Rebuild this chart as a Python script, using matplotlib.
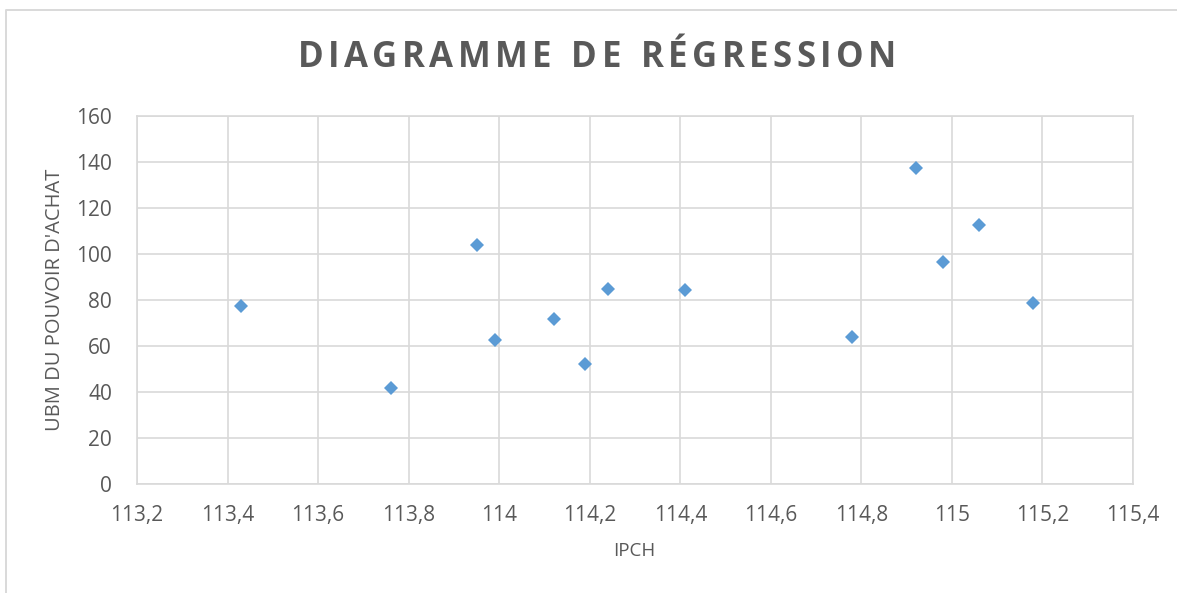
import matplotlib
matplotlib.use("Agg")
import matplotlib.pyplot as plt
from matplotlib.ticker import FuncFormatter, MultipleLocator
from matplotlib.lines import Line2D

# values
ipch = [113.43, 113.76, 113.95, 113.99, 114.12, 114.19, 114.24,
        114.41, 114.78, 114.92, 114.98, 115.06, 115.18]
ubm = [77.3, 41.9, 103.9, 62.4, 71.8, 52.0, 84.6,
       84.2, 64.0, 137.6, 96.5, 112.7, 78.7]

title = "DIAGRAMME DE RÉGRESSION"
x_label = "IPCH"
y_label = "UBM DU POUVOIR D'ACHAT"

W, H = 1177, 593
TEXT = "#595959"
GRID = "#D9D9D9"
BLUE = "#5B9BD5"

plt.rcParams["font.family"] = ["Open Sans", "DejaVu Sans"]

fig = plt.figure(figsize=(W / 100, H / 100), dpi=100)
fig.patch.set_facecolor("white")

# chart frame: only left and top edges are visible in the crop
fig.lines.append(Line2D([6 / W, 6 / W, 1.0], [0.0, 1 - 10 / H, 1 - 10 / H],
                        transform=fig.transFigure, color=GRID, linewidth=1.4))

ax = fig.add_axes([137 / W, 1 - 484 / H, 996 / W, 368 / H])
ax.plot(ipch, ubm, linestyle="none", marker="D", markersize=7,
        color=BLUE, markeredgewidth=0, zorder=3)

ax.set_xlim(113.2, 115.4)
ax.set_ylim(0, 160)
ax.xaxis.set_major_locator(MultipleLocator(0.2))
ax.yaxis.set_major_locator(MultipleLocator(20))
ax.xaxis.set_major_formatter(FuncFormatter(lambda v, p: f"{round(v, 1):g}".replace(".", ",")))
ax.yaxis.set_major_formatter(FuncFormatter(lambda v, p: f"{v:.0f}"))

ax.grid(True, color=GRID, linewidth=1.2)
ax.set_axisbelow(True)
for s in ax.spines.values():
    s.set_color(GRID)
    s.set_linewidth(1.2)
ax.tick_params(length=0, labelsize=15, labelcolor=TEXT)
ax.tick_params(axis="x", pad=15)
ax.tick_params(axis="y", pad=18)

fig.text(634 / W, 1 - 551 / H, x_label, ha="center", va="center",
         fontsize=13.5, color=TEXT)
fig.text(55 / W, 1 - 300 / H, y_label, ha="center", va="center",
         rotation=90, fontsize=14.5, color=TEXT)

# title with letter spacing, drawn one character at a time
renderer = fig.canvas.get_renderer()
spacing = 4.5  # px between letters
title_kw = dict(fontsize=25, fontweight="bold", color=TEXT, va="center", ha="left")
widths = []
for ch in title:
    t = fig.text(0, 0, ch if ch != " " else "a", **title_kw)
    w = t.get_window_extent(renderer).width
    if ch == " ":
        w *= 0.5
    widths.append(w)
    t.remove()
total = sum(widths) + spacing * (len(title) - 1)
x = 597 - total / 2
for ch, w in zip(title, widths):
    if ch != " ":
        fig.text(x / W, 1 - 58 / H, ch, **title_kw)
    x += w + spacing

fig.savefig("out.png", dpi=100, facecolor="white")
